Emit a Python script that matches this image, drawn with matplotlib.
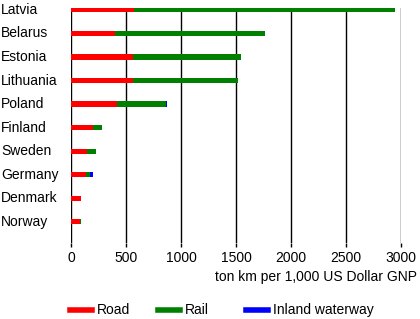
import matplotlib.pyplot as plt
import matplotlib.transforms as mtransforms
import numpy as np

plt.rcParams['font.family'] = ['Liberation Sans', 'DejaVu Sans']

countries = ["Latvia", "Belarus", "Estonia", "Lithuania", "Poland",
             "Finland", "Sweden", "Germany", "Denmark", "Norway"]
road = [573, 400, 567, 563, 415, 197, 142, 136, 91, 82]
rail = [2372, 1364, 978, 952, 449, 88, 85, 37, 0, 5]
waterway = [0, 0, 0, 0, 6, 0, 0, 30, 0, 0]
xticks = [0, 500, 1000, 1500, 2000, 2500, 3000]
modes = ["Road", "Rail", "Inland waterway"]
colors = ["#ff0000", "#008000", "#0000ff"]

fig = plt.figure(figsize=(4.2, 3.19), dpi=100)
ax = fig.add_axes([71 / 420, 1 - 243 / 319, 330 / 420, 235 / 319])

y = np.arange(len(countries))
road = np.array(road)
rail = np.array(rail)
waterway = np.array(waterway)
h = 0.22
ax.barh(y, road, height=h, color=colors[0], zorder=3)
ax.barh(y, rail, left=road, height=h, color=colors[1], zorder=3)
ax.barh(y, waterway, left=road + rail, height=h, color=colors[2], zorder=3)

ax.set_xlim(0, 3000)
ax.set_ylim(9.9, -0.08)
ax.set_xticks(xticks)
ax.set_xticklabels([str(t) for t in xticks], fontsize=10)
ax.tick_params(axis="x", length=3, width=1.0, color="black", pad=3)
ax.set_yticks([])
for s in ax.spines.values():
    s.set_visible(False)
ax.grid(axis="x", color="black", linewidth=1.0, zorder=1)

trans = mtransforms.blended_transform_factory(fig.transFigure, ax.transData)
for yi, name in zip(y, countries):
    ax.text(1 / 420, yi, name, transform=trans, ha="left", va="center", fontsize=10)

fig.text(417 / 420, 1 - 277 / 319, "ton km per 1,000 US Dollar GNP",
         ha="right", va="center", fontsize=10)

# legend drawn by hand, three evenly spaced entries
ly = 1 - 310 / 319
for i, (m, c) in enumerate(zip(modes, colors)):
    x0 = 70 + 88 * i
    fig.add_artist(plt.Line2D([x0 / 420, (x0 + 22) / 420], [ly, ly],
                              color=c, linewidth=4, transform=fig.transFigure))
    fig.text((x0 + 27) / 420, ly, m, ha="left", va="center", fontsize=10)

fig.savefig("out.png", dpi=100)
